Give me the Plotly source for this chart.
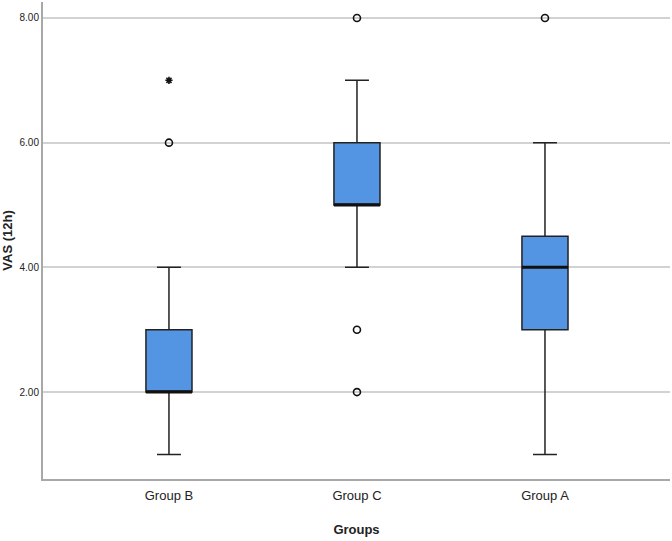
import plotly.graph_objects as go

groups = ["Group B", "Group C", "Group A"]
lower_whisker = [1, 4, 1]
q1 = [2, 5, 3]
median = [2, 5, 4]
q3 = [3, 6, 4.5]
upper_whisker = [4, 7, 6]
outliers = [[6], [2, 3, 8], [8]]
extremes = [[7], [], []]

y_ticks = [2, 4, 6, 8]
y_tick_labels = ["2.00", "4.00", "6.00", "8.00"]

pos = list(range(len(groups)))
box_w = 0.245
fig = go.Figure()
fig.add_trace(go.Box(
    x=pos, q1=q1, median=median, q3=q3,
    lowerfence=lower_whisker, upperfence=upper_whisker,
    width=box_w, whiskerwidth=0.52,
    fillcolor="#5394e3", line=dict(color="#222222", width=1.5),
    boxpoints=False, showlegend=False, hoverinfo="skip",
))
# thick median lines
mx, my = [], []
for p, m in zip(pos, median):
    mx += [p - box_w / 2, p + box_w / 2, None]
    my += [m, m, None]
fig.add_trace(go.Scatter(x=mx, y=my, mode="lines",
                         line=dict(color="#111111", width=3), showlegend=False,
                         hoverinfo="skip"))
ox, oy = [], []
for p, vals in zip(pos, outliers):
    for v in vals:
        ox.append(p); oy.append(v)
fig.add_trace(go.Scatter(x=ox, y=oy, mode="markers",
                         marker=dict(symbol="circle-open", size=7,
                                     color="#111111", line=dict(width=1.6)),
                         showlegend=False))
ex, ey = [], []
for p, vals in zip(pos, extremes):
    for v in vals:
        ex.append(p); ey.append(v)
fig.add_trace(go.Scatter(x=ex, y=ey, mode="markers",
                         marker=dict(symbol="asterisk-open", size=6,
                                     color="#111111", line=dict(width=1.6, color="#111111")),
                         showlegend=False))

fig.update_layout(
    width=672, height=541,
    margin=dict(l=43, r=2, t=2, b=62),
    paper_bgcolor="white", plot_bgcolor="white",
    font=dict(family="Liberation Sans Narrow, Arial Narrow, Liberation Sans, Arial", color="#222222"),
)
fig.update_xaxes(
    range=[-0.67, 2.665], tickvals=pos, ticktext=groups, automargin=False,
    showgrid=False, zeroline=False, showline=True, linecolor="#a8a8a8", linewidth=2,
    ticks="outside", ticklen=3, tickcolor="rgba(0,0,0,0)", tickfont=dict(size=13),
    title=dict(text="<b>Groups</b>", font=dict(size=13, family="Liberation Sans, Arial"), standoff=23),
)
fig.update_yaxes(
    range=[0.606, 8.256], tickvals=y_ticks, ticktext=y_tick_labels, automargin=False,
    showgrid=True, gridcolor="#d2d2d2", gridwidth=1.5,
    zeroline=False, showline=True, linecolor="#a8a8a8", linewidth=2,
    ticks="", tickfont=dict(size=10),
    title=dict(text="<b>VAS (12h)</b>", font=dict(size=13, family="Liberation Sans, Arial"), standoff=4),
)
fig.write_html("out.html", config={"displayModeBar": False},
               post_script="document.body.style.margin='0';")
